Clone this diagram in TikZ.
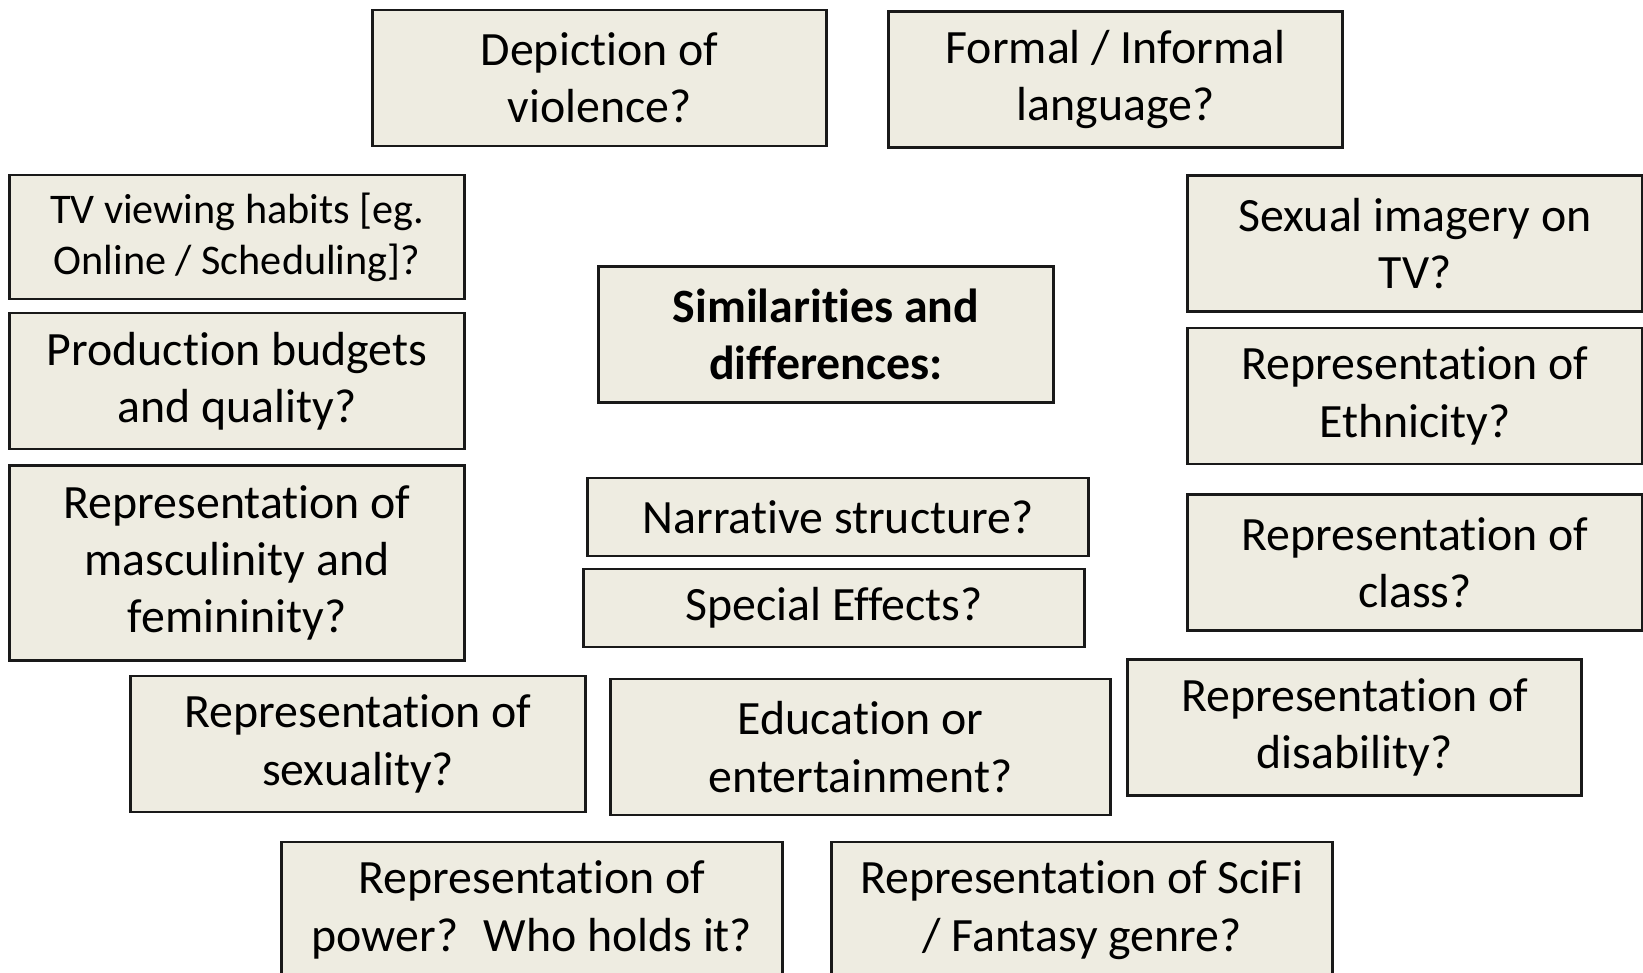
\documentclass[tikz,border=0pt]{standalone}
\usepackage{fontspec}
\setmainfont[Ligatures=NoCommon]{Carlito}
\usepackage{xcolor}
\usetikzlibrary{positioning}
\definecolor{boxfill}{HTML}{EEECE1}

\begin{document}
\begin{tikzpicture}[x=0.01cm,y=-0.01cm,
    qbox/.style={rectangle,draw=black!90,line width=0.8pt,fill=boxfill,inner sep=0pt,
                 align=center,font=\fontsize{13.6}{16.3}\selectfont},
    wide/.style={qbox,minimum width=4.54cm,minimum height=1.36cm},
    wider/.style={qbox,minimum width=5.0cm,minimum height=1.36cm},
    slim/.style={qbox,minimum width=5.0cm,minimum height=0.78cm}
]
\useasboundingbox (0,0) rectangle (1643,972);
\clip (0,0) rectangle (1643,972);

\node[wide]  (violence)  at (599.5,78)   {Depiction of \\ violence?};
\node[wide]  (language)  at (1115.5,79.5) {Formal / Informal \\ language?};
\node[wide,minimum height=1.24cm,font=\fontsize{12.0}{14.5}\selectfont]
             (habits)    at (237,237)    {TV viewing habits [eg. \\ Online / Scheduling]?};
\node[wide]  (imagery)   at (1415,243.5) {Sexual imagery on \\ TV?};
\node[wide]  (budgets)   at (237,381)    {Production budgets \\ and quality?};
\node[wide]  (similar)   at (826,334.5)  {\textbf{Similarities and} \\ \textbf{differences:}};
\node[wide,minimum height=1.95cm]
             (gender)    at (237,563)    {Representation of \\ masculinity and \\ femininity?};
\node[slim]  (narrative) at (838,517)    {Narrative structure?};
\node[slim]  (effects)   at (834,608)    {Special Effects?};
\node[wide]  (ethnicity) at (1415,396)   {Representation of \\ Ethnicity?};
\node[wide]  (class)     at (1415,562.5) {Representation of \\ class?};
\node[wide]  (sexuality) at (358,744)    {Representation of \\ sexuality?};
\node[wider] (education) at (860.5,747) {Education or \\ entertainment?};
\node[wide]  (disability) at (1354.5,727.5) {Representation of \\ disability?};
\node[wider] (power)     at (532,910)    {Representation of \\ power?~ Who holds it?};
\node[wider] (scifi)     at (1082,910)   {Representation of SciFi \\ / Fantasy genre?};
\end{tikzpicture}
\end{document}
